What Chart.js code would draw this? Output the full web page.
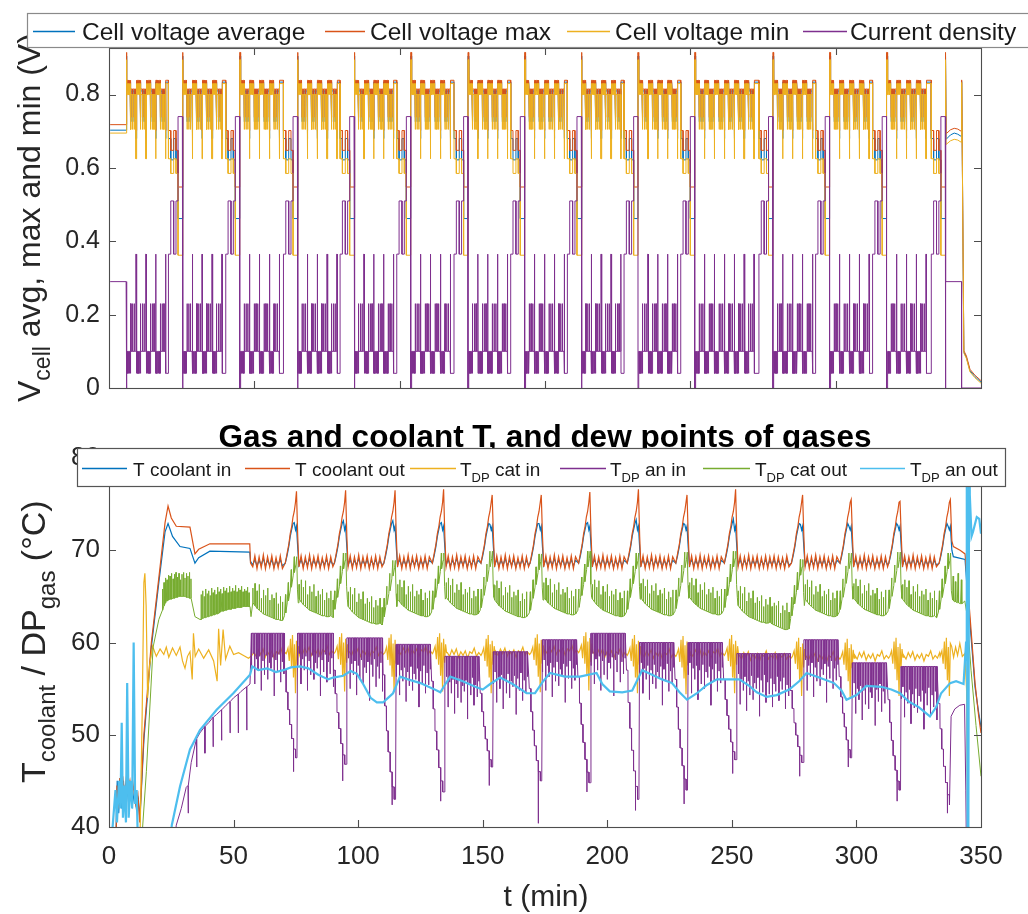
<!DOCTYPE html>
<html><head><meta charset="utf-8">
<script src="https://cdn.jsdelivr.net/npm/chart.js@4.4.1/dist/chart.umd.min.js"></script>
<style>
html,body{margin:0;padding:0;background:#fff;width:1028px;height:914px;overflow:hidden}
#c1{position:absolute;left:0;top:0}
#c2{position:absolute;left:0;top:412px}
</style></head><body>
<canvas id="c1" width="1028" height="412"></canvas>
<canvas id="c2" width="1028" height="502"></canvas>
<script>
// ================= DATA =================
// cycle boundaries (min): load drops to zero (OCV spike) / coolant temperature peak
const cycleEnds = [75.35, 95.07, 114.92, 134.4, 153.9, 173.6, 193.1, 212.6, 232.1, 251.6, 278.5, 298.0, 317.6, 337.8];

// ---- top panel: cell voltages and current density ----
const topInitStart = 50.4, topFirstStart = 56.1;
const currentLevels = [0, 0.04, 0.10, 0.23, 0.365, 0.51, 0.74, 0.29];
const vAvgLevels    = [0.905, 0.834, 0.810, 0.726, 0.680, 0.622, 0.462, 0.703];
const vMaxLevels    = [0.915, 0.839, 0.815, 0.738, 0.702, 0.648, 0.548, 0.718];
const vMinLevels    = [0.895, 0.830, 0.800, 0.705, 0.625, 0.585, 0.362, 0.695];
// one load sub-unit of the low-load phase: [duration min, level index]
const combUnit = [[0.1,1],[0.1,2],[0.1,1],[0.1,2],[0.1,1],[0.1,2],[0.1,1],[0.1,2],[0.1,1],[0.1,2],[0.1,1],[0.1,2],[0.1,1],[0.1,2],
                  [0.08,3],[0.5,2],[0.08,3],[0.5,2],[0.08,3],[0.51,2],[0.1,4],[0.15,1]];
const combUnitsPerCycle = [4,4,4,4,4,4,4,4,4,4,6,4,4,4];
// high-load staircase at the end of each cycle: [duration min, level index]
const endPhase = [[0.8,4],[1.0,5],[0.8,4],[0.7,5],[1.5,6]];
const ocvDur = 0.2;
const finalPlateauEnd = 343.3;
const finalAvg = [[338.0,0.678],[339.5,0.690],[340.8,0.695],[342.0,0.692],[343.2,0.686]];
const finalMax = [[338.0,0.693],[339.5,0.704],[340.8,0.708],[342.0,0.706],[343.2,0.700]];
const finalMin = [[338.0,0.664],[339.5,0.674],[340.8,0.678],[342.0,0.676],[343.2,0.670]];
const shutdownV = [[343.35,0.836],[343.6,0.60],[344.1,0.098],[345.0,0.083],[346.2,0.047],[347.9,0.031],[350.0,0.016]];

// ---- bottom panel: temperatures / dew points ----
const botFirstStart = 56.8;
const rippleStep = 0.85;
const coolOutEarly = [[2.8,38],[3.2,44.5],[3.7,42],[4.3,45.3],[4.9,43],[5.5,45.5],[6.2,43.5],[6.9,45.2],[7.6,44],[8.4,45],[9.2,43],[10,44.6],[10.8,42.5],[11.6,43.5],[12.3,40.5],[14,50],[17,60],[20,67],[22.5,73],[23.7,74.8],[25,73.5],[27,72.6],[32.5,72.5],[34.5,69.6],[36,70.1],[40.5,70.7],[56.5,70.7],[56.8,68.6]];
const coolInEarly = [[2.8,39],[3.3,45],[3.9,41.5],[4.5,44.5],[5.1,42],[5.8,45],[6.4,42.5],[7.1,44.8],[7.8,42.8],[8.6,44.3],[9.4,42.4],[10.2,43.9],[11,42],[11.8,43],[12.4,40.8],[14,49.4],[17,59.5],[20,66.5],[22.5,72],[23.7,72.9],[25.5,71.5],[28.5,70.4],[32.5,70.2],[34.5,68.6],[36,69.2],[40.5,69.9],[56.5,69.8],[56.8,68.8]];
const coolOutRipple = [68.2,69.4,68.0,69.3,68.1,69.5,68.0,69.3,68.2,69.4,68.0,69.2,68.1,69.4,68.0,69.3,68.2,69.4,68.0,69.3,68.1,69.2,68.0,69.4,68.2,69.3];
const coolInRipple  = [68.4,69.0,68.3,68.9,68.4,69.1,68.3,68.9,68.4,69.0,68.2,68.9,68.4,69.0,68.3,68.9,68.4,69.0,68.3,68.9,68.4,68.9,68.3,69.0,68.4,68.9];
const coolEndT    = [-4.6,-3.9,-3.2,-2.6,-2.0,-1.5,-1.0,-0.5,-0.1,0.4,0.8];
const coolOutEndV = [68.6,69.6,70.6,71.8,72.6,73.6,74.2,75.2,76.4,71.5,68.8];
const coolInEndV  = [68.6,69.4,70.4,71.5,72.3,72.9,73.0,72.2,72.6,70.3,68.6];
const coolOutPeak = [76.4,76.5,76.5,76.6,76.0,76.0,76.3,76.6,76.0,76.6,76.0,75.5,75.3,75.5];
const coolInPeak  = [73.0,73.2,73.2,73.0,72.8,72.9,73.0,73.3,72.8,73.4,72.8,72.6,72.7,72.6];

const catOutEarly = [[12.5,36],[15,46],[17.7,59.5],[20,62.5],[23,64.5],[26,64.8],[30,65.0],[33,64.8],[34.5,62.8],[36.5,62.5],[45,63.4],[56.6,63.9],[57,62.8]];
const catOutEarlySpikes = [[21.5,63.5,65.8],[22.1,64.0,66.5],[22.7,64.3,67.0],[23.3,64.5,66.8],[23.9,64.6,67.3],[24.5,64.7,67.2],[25.1,64.7,67.5],[25.7,64.8,66.9],[26.3,64.8,67.4],[26.9,64.9,67.6],[27.5,64.9,67.1],[28.1,65.0,67.5],[28.7,65.0,66.8],[29.3,65.0,67.4],[29.9,65.0,67.6],[30.5,65.0,67.0],[31.1,64.9,67.5],[31.7,64.9,67.2],[32.3,64.8,67.6],[32.9,64.8,66.9],
  [37.0,62.5,65.2],[37.6,62.6,65.6],[38.2,62.7,65.0],[38.8,62.7,65.8],[39.4,62.8,65.3],[40.0,62.8,65.6],[40.6,62.9,65.1],[41.2,62.9,65.9],[41.8,63.0,65.4],[42.4,63.0,65.7],[43.0,63.1,65.2],[43.6,63.1,66.0],[44.2,63.2,65.5],[44.8,63.3,65.8],[45.4,63.4,65.3],[46.0,63.4,66.0],[46.6,63.5,65.6],[47.2,63.5,65.9],[47.8,63.6,65.4],[48.4,63.6,66.1],[49.0,63.6,65.5],[49.6,63.7,65.9],[50.2,63.7,65.6],[50.8,63.7,66.2],[51.4,63.8,65.5],[52.0,63.8,65.9],[52.6,63.8,65.7],[53.2,63.8,66.1],[53.8,63.9,65.5],[54.4,63.9,65.8],[55.0,63.9,65.6],[55.6,63.9,66.0],[56.2,63.9,65.4]];
const catOutCombBase  = [64.6,64.3,64.0,63.8,63.6,63.4,63.3,63.2,63.1,63.0,62.9,62.8,62.8,62.7,62.7,62.8,62.6,62.5,62.4,62.3,62.2,62.1,62.0,62.0,62.1,62.2];
const catOutCombSpike = [1.6,2.4,1.9,2.8,1.5,2.6,2.1,3.0,1.8,2.5,2.2,2.9,1.7,2.6,2.0,2.7,1.9,2.4,2.2,2.8,1.6,2.5,2.1,2.9,1.8,2.6];
const catOutOffset = [-0.3,0.1,-0.7,0.1,0.3,0.0,0.3,0.1,0.2,0.3,-0.6,0.1,0.2,0.1];
const catOutEnd = [[-4.9,63.2],[-4.5,65.5],[-4.4,63.5],[-3.8,64.6],[-3.4,66.8],[-3.3,64.8],[-2.6,66.0],[-2.2,68.2],[-2.1,66.3],[-1.4,67.6],[-1.0,69.6],[-0.9,67.9],[-0.3,68.8],[0.0,69.6],[0.3,66.0],[0.6,64.6]];

const catInEarly = [[0,30],[12.4,38],[13.3,52],[14.0,66.5],[14.4,67.5],[14.9,64],[15.5,54],[16.3,57.5],[17.5,59.6],[19,58.5],[20.5,59.3],[22,58.7],[23,59.5],[24,58.4],[25.5,59.4],[27,58.6],[28.5,59.5],[29.5,58.0],[30.5,57.2],[31.5,58.5],[32.5,59.0],[33.4,56.0],[33.9,61.0],[34.6,58.5],[36,59.3],[38,58.3],[40,59.2],[42,58.0],[43.4,55.8],[44.0,61.5],[44.8,57.5],[45.8,61.4],[46.8,58.2],[48.5,59.6],[50,58.7],[52,58.9],[54,58.6],[56,58.3],[57,58.5]];
const catInComb = [58.9,58.5,59.2,58.7,59.3,58.4,59.0,58.6,59.1,58.3,59.0,58.8,59.4,58.5,58.9,58.6,59.2,58.4,59.0,58.7,59.1,58.5,58.9,58.6];
const catInOffset = [0.0,0.2,0.1,0.2,0.0,0.1,0.3,0.0,-0.1,0.0,-0.3,-0.4,-0.3,-0.3];
const catInEndT = [-4.2,-3.5,-3.0,-2.5,-2.1,-1.7,-1.3,-0.9,-0.5,-0.1,0.3,0.7,1.1];
const catInEndV = [58.8,59.4,58.0,60.4,57.4,60.8,56.2,59.8,54.5,60.2,57.6,59.6,58.7];

const anInEarly = [[25,35],[27,40.2],[29,42],[31,44.3],[33,47],[36.5,50.2],[40,51.3],[43.2,52.2],[47,53.2],[50,54],[53,54.7],[56.6,55.5]];
const anInEarlySpikes = [[31.8,44.5,41.5],[35.2,49.6,46.5],[38.5,50.9,48.0],[41.8,51.9,48.7],[45.2,52.7,49.4],[48.6,53.6,50.2],[51.9,54.4,50.2],[55.3,55.2,50.5]];
const anInTop  = [61.0,61.0,60.5,59.8,58.5,59.0,60.3,61.0,60.0,60.0,58.8,60.3,57.8,57.4];
const anInMin  = [47.5,46.8,43.0,43.8,46.5,45.0,44.8,43.0,44.0,47.3,47.0,47.5,44.0,42.4];
const anInDeep = [46.0,45.0,42.4,42.8,44.5,40.4,43.8,41.8,42.5,45.8,45.5,46.5,42.8,41.5];
const anInDips = [3.5,2.2,5.5,2.8,4.0,2.5,6.2,3.0,4.5,2.4,5.0,3.2,3.8,2.6,6.8,2.9,4.2,2.3,5.3,3.1,4.4,2.7,5.8,3.3,4.1,2.5,5.1,3.0,3.9,2.6,6.0,3.4,4.6,2.8,5.2,3.1,4.3,2.9,5.6,3.2,4.0,2.6,6.1,3.0,4.7,2.8,5.0];
const anInStairT = [-4.9,-4.3,-4.25,-3.6,-3.55,-2.9,-2.85,-2.1,-2.05,-1.3,-1.25,-0.5,-0.45,0.1];
const anInStairF = [0,0,0.25,0.25,0.45,0.45,0.62,0.62,0.78,0.78,0.9,0.9,1,1];

const anOutPoints = [[0,35],[2.6,44],[3.2,40.5],[4.0,45],[4.6,42],[5.1,51.3],[5.6,41],[6.2,44.5],[6.8,40.5],[7.3,55.6],[7.9,41],[8.6,45],[9.3,42],[9.9,60],[10.5,42.5],[11.1,44],[11.8,36],[20,30],[24.6,38],[25.2,40.2],[28.5,44.4],[32.5,48.4],[36.5,50.5],[43.2,52.7],[49.9,54.5],[56.6,56.5],
  [57.5,57.4],[60,57.0],[63.4,57.2],[67,56.8],[70,57.0],[73,57.3],[76.7,57.4],[80,57.2],[84,56.5],[88,56.0],[90,56.2],[94,56.4],[97,56.9],[99.5,56.6],[102,55.5],[105,54.0],[107.5,53.5],[110,53.5],[112,54.0],[114,54.5],[116.8,56.3],[120,56.0],[125,55.6],[130,55.0],[133,54.6],[135,55.5],[137,56.3],[142,55.8],[147,55.2],[150,54.9],[153,55.5],[157,56.2],[162,55.5],[167.6,54.5],[171,54.5],[174,55.7],[177,56.7],[183,56.3],[189,56.3],[195.7,56.7],[198,55.5],[201,54.7],[206,54.6],[210,54.8],[214,57.0],[218,56.5],[222,56.0],[226,55.6],[229,54.6],[232,53.8],[236,54.5],[240,55.4],[244,56.0],[249,56.0],[253,56.0],[257,55.3],[260,54.6],[264,54.1],[268,54.3],[273,54.9],[277,55.8],[280,56.7],[285,56.2],[291,55.6],[294,54.8],[296,53.8],[300,54.3],[304,55.3],[310,55.2],[314,54.9],[317.5,54.5],[321,53.6],[325,53.0],[329.5,52.0],[332,53.0],[334,54.5],[337.6,55.6],[340,55.8],[343,55.5],[344.0,60],[344.3,77],[344.6,40],[344.9,35],[345.2,77],[345.5,76],[346.2,71.5],[346.8,72],[348.3,73.6],[349.3,73.4],[350,71.8]];

const coolOutTail = [[338.3,71.0],[338.9,70.4],[341.6,70.0],[343.6,69.6],[344.4,67.0],[345.6,62.8],[347.6,55.6],[349,52.2],[350,50.2]];
const coolInTail  = [[338.3,70.0],[338.9,69.3],[343.6,69.0],[344.4,66.0],[345.6,62.0],[347.6,55.2],[349,52.5],[350,50.8]];
const catOutTail  = [[338.1,65.6],[338.6,64.6],[338.8,67.2],[339.0,64.5],[339.5,64.4],[339.7,66.6],[339.9,64.4],[340.5,64.3],[340.8,67.5],[341,64.3],[341.8,64.2],[342.1,66.8],[342.3,64.2],[343.5,64.5],[344.4,63],[346,57],[348,51],[350,45.5]];
const anInTail    = [[338.0,52.0],[339.5,52.8],[341.5,53.2],[343.4,53.3],[343.9,44],[344.2,36]];
const catInTail   = [[338.2,59.6],[339,58.4],[339.8,59.5],[340.6,58.6],[341.5,59.9],[342.5,58.5],[343.5,58.8],[344.2,55],[344.8,35]];

// ================= BUILD SERIES =================
function buildTop(){
  const C=[],A=[],MX=[],MN=[];
  const seg=(t0,dur,li)=>{const t1=t0+Math.max(dur-0.01,0.005);
    C.push({x:t0,y:currentLevels[li]},{x:t1,y:currentLevels[li]});
    A.push({x:t0,y:vAvgLevels[li]},{x:t1,y:vAvgLevels[li]});
    MX.push({x:t0,y:vMaxLevels[li]},{x:t1,y:vMaxLevels[li]});
    MN.push({x:t0,y:vMinLevels[li]},{x:t1,y:vMinLevels[li]});};
  seg(topInitStart, topFirstStart-ocvDur-topInitStart, 7);
  seg(topFirstStart-ocvDur, ocvDur, 0);
  let s=topFirstStart;
  cycleEnds.forEach((e,k)=>{
    let t=s;
    for(let u=0;u<combUnitsPerCycle[k];u++) for(const [d,li] of combUnit){seg(t,d,li);t+=d;}
    const endStart=e-4.8-ocvDur/2;
    if(endStart>t) seg(t,endStart-t,1);
    t=endStart;
    for(const [d,li] of endPhase){seg(t,d,li);t+=d;}
    seg(t,ocvDur,0); t+=ocvDur; s=t;
  });
  C.push({x:s,y:currentLevels[7]},{x:finalPlateauEnd,y:currentLevels[7]},{x:finalPlateauEnd+0.02,y:0},{x:350,y:0});
  finalAvg.forEach(p=>A.push({x:p[0],y:p[1]}));
  finalMax.forEach(p=>MX.push({x:p[0],y:p[1]}));
  finalMin.forEach(p=>MN.push({x:p[0],y:p[1]}));
  shutdownV.forEach(p=>{A.push({x:p[0],y:p[1]});MX.push({x:p[0],y:p[1]+0.004});MN.push({x:p[0],y:p[1]-0.003});});
  return {C,A,MX,MN};
}
function buildBottom(){
  const cin=[],cout=[],catIn=[],anIn=[],catOut=[],anOut=[];
  const P=(arr,x,y)=>arr.push({x,y});
  coolInEarly.forEach(p=>P(cin,p[0],p[1]));
  coolOutEarly.forEach(p=>P(cout,p[0],p[1]));
  catInEarly.forEach(p=>P(catIn,p[0],p[1]));
  catOutEarly.forEach(p=>P(catOut,p[0],p[1]));
  catOutEarlySpikes.forEach(p=>{P(catOut,p[0]-0.06,p[1]);P(catOut,p[0],p[2]);P(catOut,p[0]+0.06,p[1]);});
  anInEarly.forEach(p=>P(anIn,p[0],p[1]));
  anInEarlySpikes.forEach(p=>{P(anIn,p[0]-0.06,p[1]);P(anIn,p[0],p[2]);P(anIn,p[0]+0.06,p[1]);});
  anOutPoints.forEach(p=>P(anOut,p[0],p[1]));
  let s=botFirstStart; const last=cycleEnds.length-1;
  cycleEnds.forEach((e,k)=>{
    const combEnd=e-4.9;
    for(let i=0;;i++){const t=s+0.9+i*rippleStep; if(t>combEnd-0.2)break;
      P(cout,t,coolOutRipple[i%coolOutRipple.length]); P(cin,t,coolInRipple[i%coolInRipple.length]);}
    coolEndT.forEach((dt,j)=>{ if(k===last&&dt>0)return;
      P(cout,e+dt, j===8?coolOutPeak[k]:coolOutEndV[j]);
      P(cin,e+dt, j===6?coolInPeak[k]:coolInEndV[j]); });
    const off=catOutOffset[k];
    for(let i=0;;i++){const t=s+0.9+i*rippleStep; if(t>combEnd-0.3)break;
      const b=catOutCombBase[Math.min(i,catOutCombBase.length-1)]+off;
      P(catOut,t,b);P(catOut,t+0.06,b+catOutCombSpike[i%catOutCombSpike.length]);P(catOut,t+0.12,b);}
    catOutEnd.forEach(([dt,v])=>{ if(k===last&&dt>0)return; P(catOut,e+dt,v+off); });
    const top=anInTop[k];
    for(let i=0;;i++){const t=s+0.35+i*0.65; if(t>combEnd-0.15)break;
      P(anIn,t,top);P(anIn,t+0.05,top-anInDips[i%anInDips.length]);P(anIn,t+0.1,top);}
    const st=top-4, mn=anInMin[k];
    anInStairT.forEach((dt,j)=>{ if(k===last&&dt>0)return;
      const v=st-anInStairF[j]*(st-mn); P(anIn,e+dt,v);
      if(j===9){P(anIn,e+dt+0.02,anInDeep[k]);P(anIn,e+dt+0.04,v);} });
    const yo=catInOffset[k];
    for(let i=0;;i++){const t=s+1.4+i*0.9; if(t>e-4.4)break; P(catIn,t,catInComb[i%catInComb.length]+yo);}
    catInEndT.forEach((dt,j)=>{ if(k===last&&dt>0)return; P(catIn,e+dt,catInEndV[j]+yo); });
    s=e;
  });
  coolOutTail.forEach(p=>P(cout,p[0],p[1]));
  coolInTail.forEach(p=>P(cin,p[0],p[1]));
  catOutTail.forEach(p=>P(catOut,p[0],p[1]));
  anInTail.forEach(p=>P(anIn,p[0],p[1]));
  catInTail.forEach(p=>P(catIn,p[0],p[1]));
  const srt=a=>a.sort((p,q)=>p.x-q.x);
  [cin,cout,catIn,anIn,catOut,anOut].forEach(srt);
  return {cin,cout,catIn,anIn,catOut,anOut};
}
const TOP=buildTop(), BOT=buildBottom();

// ================= DRAWING HELPERS =================
const FF='"Liberation Sans", Arial, Helvetica, sans-serif';
function runs(str){const out=[];const re=/_\{([^}]*)\}/g;let last=0,m;
  while((m=re.exec(str))){if(m.index>last)out.push({t:str.slice(last,m.index),sub:false});out.push({t:m[1],sub:true});last=re.lastIndex;}
  if(last<str.length)out.push({t:str.slice(last),sub:false});return out;}
function drawRich(ctx,str,x,y,size,subSize,subDy,weight){
  const rs=runs(str);
  for(const r of rs){ctx.font=(weight||'')+' '+(r.sub?subSize:size)+'px '+FF;ctx.fillText(r.t,x,y+(r.sub?subDy:0));x+=ctx.measureText(r.t).width;}
  return x;}
const frame={id:'frame',
  afterDraw(chart,args,o){
    const ctx=chart.ctx,a=chart.chartArea,sx=chart.scales.x,sy=chart.scales.y;
    ctx.save();
    ctx.strokeStyle='#4d4d4d';ctx.lineWidth=1.1;
    ctx.strokeRect(Math.round(a.left)+0.5,Math.round(a.top)+0.5,Math.round(a.right-a.left),Math.round(a.bottom-a.top));
    ctx.beginPath();
    sx.ticks.forEach(t=>{if(t.value<=sx.min||t.value>=sx.max)return;const x=Math.round(sx.getPixelForValue(t.value))+0.5;
      ctx.moveTo(x,a.bottom);ctx.lineTo(x,a.bottom-7);ctx.moveTo(x,a.top);ctx.lineTo(x,a.top+7);});
    sy.ticks.forEach(t=>{if(t.value<=sy.min||t.value>=sy.max)return;const y=Math.round(sy.getPixelForValue(t.value))+0.5;
      ctx.moveTo(a.left,y);ctx.lineTo(a.left+7,y);ctx.moveTo(a.right,y);ctx.lineTo(a.right-7,y);});
    ctx.stroke();
    ctx.fillStyle='#262626';ctx.textBaseline='alphabetic';ctx.textAlign='left';
    const yt=o.yTitle;
    ctx.save();ctx.translate(yt.x,yt.y);ctx.rotate(-Math.PI/2);
    drawRich(ctx,yt.text,0,0,yt.size,yt.subSize,yt.subDy);ctx.restore();
    if(o.xTitle){ctx.font=o.xTitle.size+'px '+FF;ctx.textAlign='center';ctx.fillText(o.xTitle.text,o.xTitle.x,o.xTitle.y);ctx.textAlign='left';}
    if(o.title){ctx.fillStyle='#000';ctx.font='bold '+o.title.size+'px '+FF;ctx.textAlign='center';ctx.fillText(o.title.text,o.title.x,o.title.y);ctx.textAlign='left';}
    const L=o.legend;
    ctx.fillStyle='#fff';ctx.fillRect(L.box[0],L.box[1],L.box[2],L.box[3]);
    ctx.strokeStyle=L.border;ctx.lineWidth=1.2;ctx.strokeRect(L.box[0]+0.5,L.box[1]+0.5,L.box[2],L.box[3]);
    chart.data.datasets.forEach((ds,i)=>{const it=L.items[i];
      ctx.strokeStyle=ds.borderColor;ctx.lineWidth=1.3;ctx.beginPath();ctx.moveTo(it[0],L.lineY+0.5);ctx.lineTo(it[1],L.lineY+0.5);ctx.stroke();
      ctx.fillStyle='#1a1a1a';drawRich(ctx,ds.label,it[2],L.baseline,L.font,L.subSize,L.subDy);});
    ctx.restore();
  }};

function scaleOpts(min,max,step,show,fs,pad,w,h){
  return {
    x:{type:'linear',min:min[0],max:max[0],afterFit(s){s.height=h;},
       ticks:{display:show,stepSize:step[0],padding:pad[0],maxRotation:0,autoSkip:false,color:'#262626',font:{family:FF,size:fs}},
       grid:{display:false,drawTicks:false},border:{display:false}},
    y:{type:'linear',min:min[1],max:max[1],afterFit(s){s.width=w;},
       ticks:{stepSize:step[1],includeBounds:false,padding:pad[1],color:'#262626',font:{family:FF,size:fs}},
       grid:{display:false,drawTicks:false},border:{display:false}}
  };
}

new Chart(document.getElementById('c1'),{
  type:'line',
  data:{datasets:[
    {label:'Cell voltage average',data:TOP.A,borderColor:'#0072BD',order:3},
    {label:'Cell voltage max',data:TOP.MX,borderColor:'#D95319',order:2},
    {label:'Cell voltage min',data:TOP.MN,borderColor:'#EDB120',order:1},
    {label:'Current density',data:TOP.C,borderColor:'#7E2F8E',order:0}]},
  options:{responsive:false,animation:false,parsing:false,normalized:true,
    elements:{point:{radius:0},line:{borderWidth:1,tension:0}},
    layout:{padding:{left:0,right:47,top:48,bottom:0}},
    plugins:{legend:{display:false},tooltip:{enabled:false},
      frame:{yTitle:{text:'V_{cell} avg, max and min (V)',x:40,y:402,size:32,subSize:23,subDy:10},
        legend:{box:[27,13,1013,34],border:'#8a8a8a',font:24.5,subSize:16,subDy:6,baseline:40,lineY:31,
          items:[[33,75,82],[325,365,370],[567,610,615],[803,847,850]]}}},
    scales:scaleOpts([50,0],[350,0.927],[50,0.2],false,25,[0,9],109,7)},
  plugins:[frame]});

new Chart(document.getElementById('c2'),{
  type:'line',
  data:{datasets:[
    {label:'T coolant in',data:BOT.cin,borderColor:'#0072BD',order:5},
    {label:'T coolant out',data:BOT.cout,borderColor:'#D95319',order:4},
    {label:'T_{DP} cat in',data:BOT.catIn,borderColor:'#EDB120',order:3},
    {label:'T_{DP} an in',data:BOT.anIn,borderColor:'#7E2F8E',order:2,borderWidth:1},
    {label:'T_{DP} cat out',data:BOT.catOut,borderColor:'#77AC30',order:1,borderWidth:1},
    {label:'T_{DP} an out',data:BOT.anOut,borderColor:'#4DBEEE',order:0,borderWidth:2.2}]},
  options:{responsive:false,animation:false,parsing:false,normalized:true,
    elements:{point:{radius:0},line:{borderWidth:1.2,tension:0}},
    layout:{padding:{left:0,right:47,top:46,bottom:0}},
    plugins:{legend:{display:false},tooltip:{enabled:false},
      frame:{yTitle:{text:'T_{coolant} / DP_{gas} (°C)',x:45,y:371,size:34,subSize:24,subDy:10},
        xTitle:{text:'t (min)',x:546,y:494,size:30},
        title:{text:'Gas and coolant T, and dew points of gases',x:545,y:35,size:31.5},
        legend:{box:[77,36,928,38],border:'#555',font:19,subSize:13,subDy:6,baseline:64,lineY:56,
          items:[[82,127,133],[245,290,295],[410,456,460],[560,606,610],[703,750,755],[860,905,910]]}}},
    scales:scaleOpts([0,40],[350,80],[50,10],true,26,[14,9],109,87)},
  plugins:[frame]});
</script></body></html>
